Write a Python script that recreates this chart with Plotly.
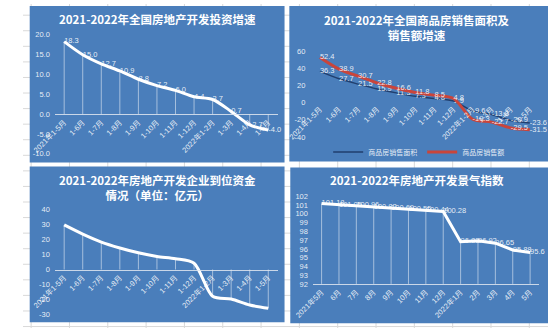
import plotly.graph_objects as go

W, H = 548, 333

# ---------------- data ----------------
cats_cum = ["2021年1-5月", "1-6月", "1-7月", "1-8月", "1-9月", "1-10月", "1-11月",
            "1-12月", "2022年1-2月", "1-3月", "1-4月", "1-5月"]
invest_growth = [18.3, 15.0, 12.7, 10.9, 8.8, 7.2, 6.0, 4.4, 3.7, 0.7, -2.7, -4.0]
invest_tickvals = [-10, -5, 0, 5, 10, 15, 20]
invest_ticktext = ["-10.0", "-5.0", "0.0", "5.0", "10.0", "15.0", "20.0"]

sales_area = [36.3, 27.7, 21.5, 15.9, 11.3, 7.3, 4.8, 1.9, -9.6, -13.8, -20.9, -23.6]
sales_value = [52.4, 38.9, 30.7, 22.8, 16.6, 11.8, 8.5, 4.8, -19.3, -22.7, -29.5, -31.5]
sales_tickvals = [-40, -20, 0, 20, 40, 60]
sales_ticktext = ["-40", "-20", "0", "20", "40", "60"]

funds_growth = [29.6, 23.5, 18.2, 14.3, 11.1, 8.7, 7.2, 4.2, -17.7, -19.6, -23.6, -25.8]
funds_tickvals = [-30, -20, -10, 0, 10, 20, 30, 40]
funds_ticktext = ["-30", "-20", "-10", "0", "10", "20", "30", "40"]

cats_month = ["2021年5月", "6月", "7月", "8月", "9月", "10月", "11月", "12月",
              "2022年1月", "2月", "3月", "4月", "5月"]
climate_index = [101.18, 101.05, 100.96, 100.82, 100.69, 100.55, 100.44, 100.28,
                 96.83, 96.92, 96.65, 95.88, 95.6]
climate_tickvals = list(range(92, 103))

titles = ["2021-2022年全国房地产开发投资增速",
          "2021-2022年全国商品房销售面积及<br>销售额增速",
          "2021-2022年房地产开发企业到位资金<br>情况（单位：亿元）",
          "2021-2022年房地产开发景气指数"]

# ---------------- style ----------------
PANEL = "#4a7ebb"
TXT = "rgba(255,255,255,0.88)"
AXLINE = "rgba(225,230,240,0.85)"
DROP = "rgba(255,255,255,0.5)"
NUMFONT = "Liberation Sans, Noto Sans CJK SC"
CJK = "Noto Sans CJK SC"


def dx(a, b):
    return [a / W, b / W]


def dy(top, bottom):
    return [1 - bottom / H, 1 - top / H]


def zero_pos(dom, rng, base=0):
    return dom[0] + (base - rng[0]) / (rng[1] - rng[0]) * (dom[1] - dom[0])


def drops(vals, base=0):
    up = [max(0, base - v) for v in vals]
    down = [max(0, v - base) for v in vals]
    return dict(type="data", symmetric=False, array=up, arrayminus=down,
                color=DROP, thickness=1, width=0)


fig = go.Figure()

# panel 1
fig.add_trace(go.Scatter(
    x=cats_cum, y=invest_growth, mode="lines+text",
    text=[f"{v:.1f}" for v in invest_growth], textposition="middle right",
    textfont=dict(size=7.5, color=TXT, family=NUMFONT),
    line=dict(color="white", width=3, shape="spline", smoothing=0.8),
    error_y=drops(invest_growth), cliponaxis=False, showlegend=False,
    xaxis="x", yaxis="y"))

# panel 2
fig.add_trace(go.Scatter(
    x=cats_cum, y=sales_area, mode="lines+text", name="商品房销售面积",
    text=[f"{v}" for v in sales_area], textposition="middle right",
    textfont=dict(size=7.5, color=TXT, family=NUMFONT),
    line=dict(color="#213f6e", width=1.5, shape="spline", smoothing=0.8),
    cliponaxis=False, showlegend=True, xaxis="x2", yaxis="y2"))
fig.add_trace(go.Scatter(
    x=cats_cum, y=sales_value, mode="lines+text", name="商品房销售额",
    text=[f"{v}" for v in sales_value], textposition="middle right",
    textfont=dict(size=7.5, color=TXT, family=NUMFONT),
    line=dict(color="#c9453b", width=3, shape="spline", smoothing=0.8),
    cliponaxis=False, showlegend=True, xaxis="x2", yaxis="y2"))

# panel 3
fig.add_trace(go.Scatter(
    x=cats_cum, y=funds_growth, mode="lines",
    line=dict(color="white", width=3, shape="spline", smoothing=0.8),
    error_y=drops(funds_growth), cliponaxis=False, showlegend=False,
    xaxis="x3", yaxis="y3"))

# panel 4
fig.add_trace(go.Scatter(
    x=cats_month, y=climate_index, mode="lines+text",
    text=[f"{v}" for v in climate_index], textposition="middle right",
    textfont=dict(size=7.5, color=TXT, family=NUMFONT),
    line=dict(color="white", width=3),
    error_y=drops(climate_index, 92), cliponaxis=False, showlegend=False,
    xaxis="x4", yaxis="y4"))

# domains / ranges
d1x, d1y, r1 = dx(33.3, 265.7), dy(31.7, 154), [-10, 20]
d2x, d2y, r2 = dx(300, 539), dy(48.3, 136.7), [-40, 60]
d3x, d3y, r3 = dx(33.3, 265.7), dy(211, 319.3), [-30, 40]
d4x, d4y, r4 = dx(302.6, 538.4), dy(197.7, 287.7), [92, 102]

tickfont = dict(size=7.5, color=TXT, family=NUMFONT)


def xax(dom, anchor, pos=None, showline=True):
    d = dict(domain=dom, type="category", range=[-0.5, None], tickangle=-45,
             showgrid=False, zeroline=False, showline=showline, linecolor=AXLINE,
             linewidth=1, ticks="", tickfont=tickfont, fixedrange=True)
    if pos is not None:
        d["anchor"] = "free"
        d["position"] = pos
    else:
        d["anchor"] = anchor
    return d


def yax(dom, anchor, rng, tv, tt):
    return dict(domain=dom, anchor=anchor, range=rng, tickvals=tv, ticktext=tt,
                showgrid=False, zeroline=False, showline=False, ticks="",
                tickfont=tickfont, ticklabelstandoff=4, fixedrange=True)


x1 = xax(d1x, None, zero_pos(d1y, r1))
x1["range"] = [-0.5, len(cats_cum) - 0.5]
x2 = xax(d2x, None, zero_pos(d2y, r2), showline=False)
x2["range"] = [-0.5, len(cats_cum) - 0.5]
x3 = xax(d3x, None, zero_pos(d3y, r3))
x3["range"] = [-0.5, len(cats_cum) - 0.5]
x4 = xax(d4x, "y4")
x4["range"] = [-0.5, len(cats_month) - 0.5]

# background: spreadsheet grid + panels
shapes = []
for k in range(14):
    xv = (8.5 + 40 * k) / W
    shapes.append(dict(type="line", xref="paper", yref="paper", x0=xv, x1=xv, y0=0, y1=1,
                       line=dict(color="#d9d9d9", width=1), layer="below"))
yy = 11.5
while yy < H:
    shapes.append(dict(type="line", xref="paper", yref="paper", x0=0, x1=1,
                       y0=1 - yy / H, y1=1 - yy / H,
                       line=dict(color="#d9d9d9", width=1), layer="below"))
    yy += 16
for (a, b, t, bt) in [(7, 273, 2, 163), (278, 548, 2, 162), (7, 273, 167, 327), (279, 548, 168, 328)]:
    shapes.append(dict(type="rect", xref="paper", yref="paper",
                       x0=a / W, x1=b / W, y0=1 - bt / H, y1=1 - t / H,
                       fillcolor=PANEL, line=dict(width=0), layer="below"))

annotations = []
for txt, cx, cy in [(titles[0], 140, 15), (titles[1], 411, 24.5),
                    (titles[2], 140, 188.5), (titles[3], 411, 181)]:
    annotations.append(dict(text=f"<b>{txt}</b>", xref="paper", yref="paper",
                            x=cx / W, y=1 - cy / H, xanchor="center", yanchor="middle",
                            showarrow=False,
                            font=dict(family=CJK, size=11.5, color="white")))

fig.update_layout(
    width=W, height=H, autosize=False,
    margin=dict(l=0, r=0, t=0, b=0),
    paper_bgcolor="white", plot_bgcolor="rgba(0,0,0,0)",
    xaxis=x1, yaxis=yax(d1y, "x", r1, invest_tickvals, invest_ticktext),
    xaxis2=x2, yaxis2=yax(d2y, "x2", r2, sales_tickvals, sales_ticktext),
    xaxis3=x3, yaxis3=yax(d3y, "x3", r3, funds_tickvals, funds_ticktext),
    xaxis4=x4, yaxis4=yax(d4y, "x4", r4, climate_tickvals, [str(v) for v in climate_tickvals]),
    shapes=shapes, annotations=annotations,
    legend=dict(orientation="h", x=413 / W, y=1 - 152 / H, xanchor="center", yanchor="middle",
                bgcolor="rgba(0,0,0,0)", font=dict(family=CJK, size=7, color=TXT),
                itemwidth=30, tracegroupgap=0),
    font=dict(family=NUMFONT),
)

fig.write_html("out.html")
